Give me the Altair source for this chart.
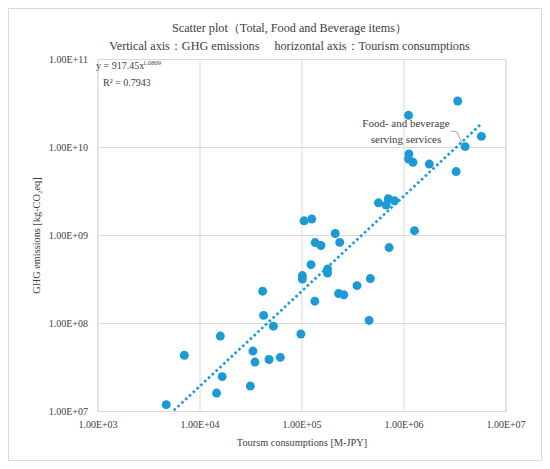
import altair as alt
import pandas as pd

# ---- data ----
tourism = [4.72e3, 7.1e3, 1.47e4, 1.67e4, 1.6e4, 3.15e4, 3.34e4, 3.5e4, 4.8e4, 6.2e4,
           5.3e4, 4.25e4, 4.16e4, 9.85e4, 1.06e5, 1.26e5, 2.14e5, 1.36e5, 1.55e5, 2.37e5,
           1.24e5, 1.8e5, 1.8e5, 1.02e5, 1.02e5, 2.31e5, 2.6e5, 3.5e5, 4.73e5, 1.35e5,
           4.6e5, 3.4e6, 1.12e6, 5.8e6, 4.02e6, 1.13e6, 1.12e6, 1.24e6, 1.79e6, 3.28e6,
           5.68e5, 7.1e5, 8.15e5, 6.76e5, 1.28e6, 7.23e5]
ghg = [1.18e7, 4.3e7, 1.6e7, 2.46e7, 7.1e7, 1.92e7, 4.8e7, 3.6e7, 3.85e7, 4.07e7,
       9.2e7, 1.22e8, 2.3e8, 7.5e7, 1.45e9, 1.52e9, 1.04e9, 8.2e8, 7.6e8, 8.25e8,
       4.6e8, 4.1e8, 3.7e8, 3.46e8, 3.16e8, 2.16e8, 2.09e8, 2.66e8, 3.2e8, 1.77e8,
       1.07e8, 3.33e10, 2.29e10, 1.32e10, 1.01e10, 8.35e9, 7.3e9, 6.7e9, 6.4e9, 5.26e9,
       2.32e9, 2.58e9, 2.45e9, 2.19e9, 1.12e9, 7.2e8]

x_ticks = [1e3, 1e4, 1e5, 1e6, 1e7]
x_tick_labels = ["1.00E+03", "1.00E+04", "1.00E+05", "1.00E+06", "1.00E+07"]
y_ticks = [1e7, 1e8, 1e9, 1e10, 1e11]
y_tick_labels = ["1.00E+07", "1.00E+08", "1.00E+09", "1.00E+10", "1.00E+11"]

title_lines = ["Scatter plot（Total, Food and Beverage items）",
               "Vertical axis：GHG emissions　 horizontal axis：Tourism consumptions"]
x_title = "Toursm consumptions [M-JPY]"
y_title = "GHG emissions [kg-CO₂eq]"
eq_main = "y = 917.45x"
eq_exp = "1.0809"
r2_text = "R² = 0.7943"
note_lines = ["Food- and beverage", "serving services"]

FONT = "Liberation Serif"
TXT = "#404040"
GRID = "#d9d9d9"
BLUE = "#1c9ad6"

W, H = 408, 352

df = pd.DataFrame({"x": tourism, "y": ghg})


def label_expr(vals, labs):
    expr = "''"
    for v, l in reversed(list(zip(vals, labs))):
        expr = f"(abs(datum.value - {v!r}) < {v!r}*1e-6 ? '{l}' : {expr})"
    return expr


xs = alt.X("x:Q", scale=alt.Scale(type="log", domain=[1e3, 1e7], nice=False),
           axis=alt.Axis(values=x_ticks, labelExpr=label_expr(x_ticks, x_tick_labels),
                         title=x_title, grid=True, gridColor=GRID, domain=False, ticks=False,
                         labelFlush=False, labelOverlap=False,
                         labelFont=FONT, labelFontSize=10, labelColor=TXT, labelPadding=8,
                         titleFont=FONT, titleFontSize=10.3, titleFontWeight="normal",
                         titleColor=TXT, titleX=204, titleY=31, titleBaseline="middle",
                         titleAnchor="start", titleAlign="center"))
ys = alt.Y("y:Q", scale=alt.Scale(type="log", domain=[1e7, 1e11], nice=False),
           axis=alt.Axis(values=y_ticks, labelExpr=label_expr(y_ticks, y_tick_labels),
                         title=y_title, grid=True, gridColor=GRID, domain=False, ticks=False,
                         labelFlush=False, labelOverlap=False,
                         labelFont=FONT, labelFontSize=10, labelColor=TXT, labelPadding=10,
                         titleFont=FONT, titleFontSize=10.3, titleFontWeight="normal",
                         titleColor=TXT, titleX=-61, titleY=176, titleBaseline="middle",
                         titleAlign="center", titleAngle=-90))

points = alt.Chart(df).mark_circle(size=80, color=BLUE, opacity=1).encode(x=xs, y=ys)

trend = alt.Chart(df).transform_regression(
    "x", "y", method="pow"
).mark_line(color=BLUE, strokeWidth=2.6, strokeDash=[2.6, 2.6], clip=True).encode(
    x=alt.X("x:Q", scale=alt.Scale(type="log", domain=[1e3, 1e7], nice=False)),
    y=alt.Y("y:Q", scale=alt.Scale(type="log", domain=[1e7, 1e11], nice=False)),
)

ann = pd.DataFrame({"t": [0]})


def txt(text, x, y, size, align="center", color=TXT):
    return alt.Chart(ann).mark_text(text=text, font=FONT, fontSize=size, color=color,
                                    align=align, baseline="middle").encode(
        x=alt.value(x), y=alt.value(y))


titles = txt(title_lines[0], 192, -31, 12.2) + txt(title_lines[1], 192, -13, 12.2)
eq = txt(eq_main, -1.5, 7, 10, align="left") + txt(eq_exp, 45.5, 3.5, 6.5, align="left") + \
    txt(r2_text, 5.5, 24, 10, align="left")
note = txt(note_lines[0], 308.5, 65, 11) + txt(note_lines[1], 308.5, 81, 11)


def seg(x1, y1, x2, y2, color):
    return alt.Chart(ann).mark_rule(color=color, strokeWidth=1).encode(
        x=alt.value(x1), x2=alt.value(x2), y=alt.value(y1), y2=alt.value(y2))


lead = seg(353.5, 72, 359.5, 73, "#a6a6a6") + seg(359.5, 73, 364.5, 84, "#a6a6a6")

L, R, T, B = -89, 444, -50.5, 401.5
border = seg(L, T, R, T, GRID) + seg(L, B, R, B, GRID) + seg(L, T, L, B, GRID) + seg(R, T, R, B, GRID)

chart = alt.layer(border, points, trend, titles, eq, note, lead).properties(
    width=W, height=H,
    autosize=alt.AutoSizeParams(type="none"),
    padding={"left": 89.5, "top": 51, "right": 36.5, "bottom": 50},
).configure_view(stroke=GRID, strokeWidth=1).configure(background="white")

chart.save("out.html", embed_options={"renderer": "svg", "actions": False})
